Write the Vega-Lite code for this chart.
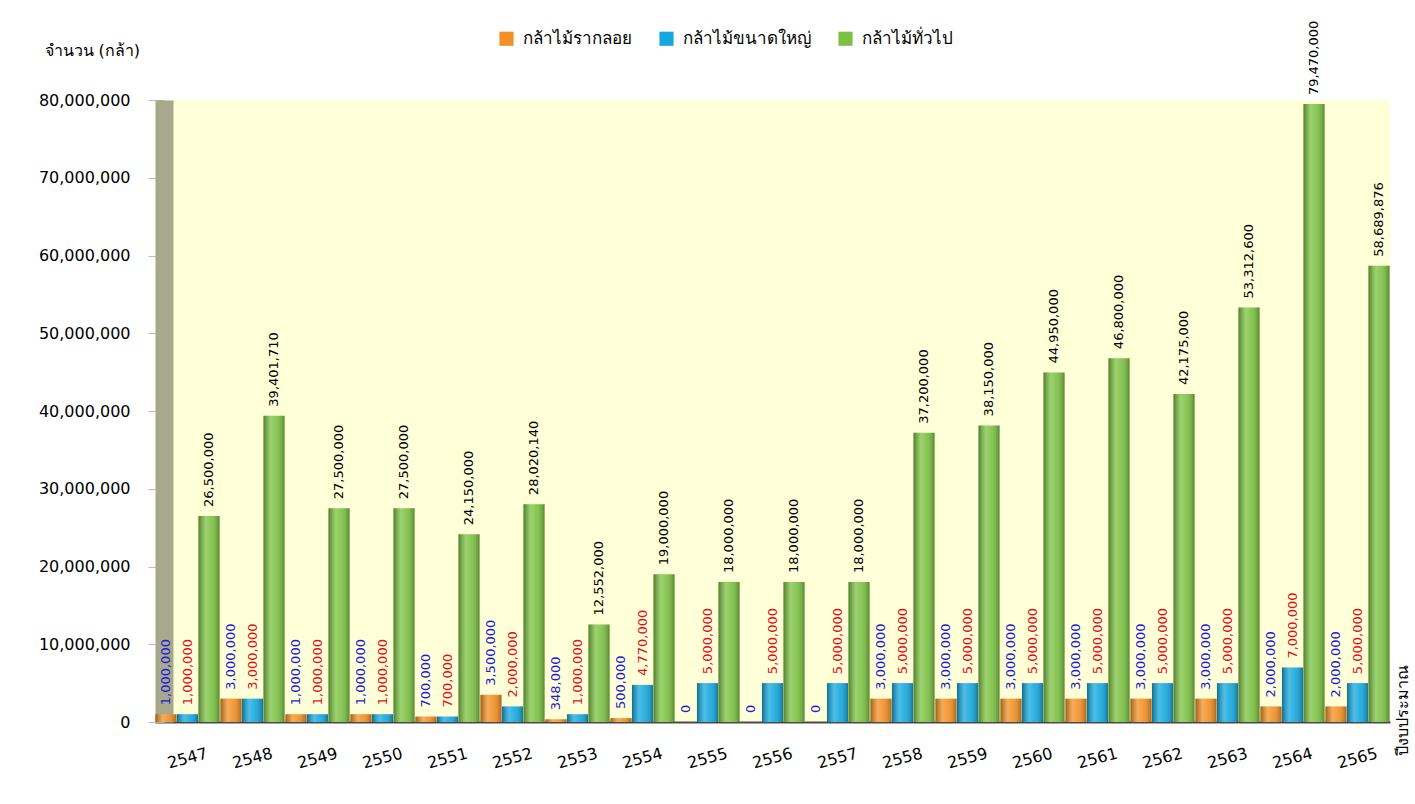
{
  "$schema": "https://vega.github.io/schema/vega-lite/v6.json",
  "width": 1235,
  "height": 622,
  "autosize": "none",
  "padding": {"left": 155, "top": 100, "right": 25, "bottom": 82},
  "background": "white",
  "config": {
    "view": {"fill": "#FFFFD8", "stroke": null},
    "font": "DejaVu Sans"
  },
  "data": {
    "values": [
      {"year": "2547", "series": "กล้าไม้รากลอย", "value": 1000000},
      {"year": "2547", "series": "กล้าไม้ขนาดใหญ่", "value": 1000000},
      {"year": "2547", "series": "กล้าไม้ทั่วไป", "value": 26500000},
      {"year": "2548", "series": "กล้าไม้รากลอย", "value": 3000000},
      {"year": "2548", "series": "กล้าไม้ขนาดใหญ่", "value": 3000000},
      {"year": "2548", "series": "กล้าไม้ทั่วไป", "value": 39401710},
      {"year": "2549", "series": "กล้าไม้รากลอย", "value": 1000000},
      {"year": "2549", "series": "กล้าไม้ขนาดใหญ่", "value": 1000000},
      {"year": "2549", "series": "กล้าไม้ทั่วไป", "value": 27500000},
      {"year": "2550", "series": "กล้าไม้รากลอย", "value": 1000000},
      {"year": "2550", "series": "กล้าไม้ขนาดใหญ่", "value": 1000000},
      {"year": "2550", "series": "กล้าไม้ทั่วไป", "value": 27500000},
      {"year": "2551", "series": "กล้าไม้รากลอย", "value": 700000},
      {"year": "2551", "series": "กล้าไม้ขนาดใหญ่", "value": 700000},
      {"year": "2551", "series": "กล้าไม้ทั่วไป", "value": 24150000},
      {"year": "2552", "series": "กล้าไม้รากลอย", "value": 3500000},
      {"year": "2552", "series": "กล้าไม้ขนาดใหญ่", "value": 2000000},
      {"year": "2552", "series": "กล้าไม้ทั่วไป", "value": 28020140},
      {"year": "2553", "series": "กล้าไม้รากลอย", "value": 348000},
      {"year": "2553", "series": "กล้าไม้ขนาดใหญ่", "value": 1000000},
      {"year": "2553", "series": "กล้าไม้ทั่วไป", "value": 12552000},
      {"year": "2554", "series": "กล้าไม้รากลอย", "value": 500000},
      {"year": "2554", "series": "กล้าไม้ขนาดใหญ่", "value": 4770000},
      {"year": "2554", "series": "กล้าไม้ทั่วไป", "value": 19000000},
      {"year": "2555", "series": "กล้าไม้รากลอย", "value": 0},
      {"year": "2555", "series": "กล้าไม้ขนาดใหญ่", "value": 5000000},
      {"year": "2555", "series": "กล้าไม้ทั่วไป", "value": 18000000},
      {"year": "2556", "series": "กล้าไม้รากลอย", "value": 0},
      {"year": "2556", "series": "กล้าไม้ขนาดใหญ่", "value": 5000000},
      {"year": "2556", "series": "กล้าไม้ทั่วไป", "value": 18000000},
      {"year": "2557", "series": "กล้าไม้รากลอย", "value": 0},
      {"year": "2557", "series": "กล้าไม้ขนาดใหญ่", "value": 5000000},
      {"year": "2557", "series": "กล้าไม้ทั่วไป", "value": 18000000},
      {"year": "2558", "series": "กล้าไม้รากลอย", "value": 3000000},
      {"year": "2558", "series": "กล้าไม้ขนาดใหญ่", "value": 5000000},
      {"year": "2558", "series": "กล้าไม้ทั่วไป", "value": 37200000},
      {"year": "2559", "series": "กล้าไม้รากลอย", "value": 3000000},
      {"year": "2559", "series": "กล้าไม้ขนาดใหญ่", "value": 5000000},
      {"year": "2559", "series": "กล้าไม้ทั่วไป", "value": 38150000},
      {"year": "2560", "series": "กล้าไม้รากลอย", "value": 3000000},
      {"year": "2560", "series": "กล้าไม้ขนาดใหญ่", "value": 5000000},
      {"year": "2560", "series": "กล้าไม้ทั่วไป", "value": 44950000},
      {"year": "2561", "series": "กล้าไม้รากลอย", "value": 3000000},
      {"year": "2561", "series": "กล้าไม้ขนาดใหญ่", "value": 5000000},
      {"year": "2561", "series": "กล้าไม้ทั่วไป", "value": 46800000},
      {"year": "2562", "series": "กล้าไม้รากลอย", "value": 3000000},
      {"year": "2562", "series": "กล้าไม้ขนาดใหญ่", "value": 5000000},
      {"year": "2562", "series": "กล้าไม้ทั่วไป", "value": 42175000},
      {"year": "2563", "series": "กล้าไม้รากลอย", "value": 3000000},
      {"year": "2563", "series": "กล้าไม้ขนาดใหญ่", "value": 5000000},
      {"year": "2563", "series": "กล้าไม้ทั่วไป", "value": 53312600},
      {"year": "2564", "series": "กล้าไม้รากลอย", "value": 2000000},
      {"year": "2564", "series": "กล้าไม้ขนาดใหญ่", "value": 7000000},
      {"year": "2564", "series": "กล้าไม้ทั่วไป", "value": 79470000},
      {"year": "2565", "series": "กล้าไม้รากลอย", "value": 2000000},
      {"year": "2565", "series": "กล้าไม้ขนาดใหญ่", "value": 5000000},
      {"year": "2565", "series": "กล้าไม้ทั่วไป", "value": 58689876}
    ]
  },
  "encoding": {
    "x": {
      "field": "year",
      "type": "nominal",
      "scale": {"paddingInner": 0, "paddingOuter": 0},
      "axis": {
        "title": "ปีงบประมาณ",
        "titleAngle": 270,
        "titleX": 1247,
        "titleY": -12,
        "titleAlign": "center",
        "titleBaseline": "middle",
        "titleFontSize": 16,
        "titleFontWeight": "normal",
        "titleColor": "black",
        "labelAngle": -15,
        "labelFontSize": 16,
        "labelColor": "black",
        "labelPadding": 36,
        "labelBaseline": "middle",
        "labelAlign": "center",
        "ticks": false,
        "domainColor": "#4a4a4a",
        "domainWidth": 2
      }
    },
    "xOffset": {
      "field": "series",
      "type": "nominal",
      "sort": ["กล้าไม้รากลอย", "กล้าไม้ขนาดใหญ่", "กล้าไม้ทั่วไป"],
      "scale": {"paddingInner": 0.02, "paddingOuter": 0.02}
    },
    "y": {
      "field": "value",
      "type": "quantitative",
      "scale": {"domain": [0, 80000000], "nice": false},
      "axis": {
        "title": "จำนวน (กล้า)",
        "titleAngle": 0,
        "titleX": -120,
        "titleY": -50,
        "titleAlign": "left",
        "titleBaseline": "middle",
        "titleFontSize": 16,
        "titleFontWeight": "normal",
        "titleColor": "black",
        "values": [0, 10000000, 20000000, 30000000, 40000000, 50000000, 60000000, 70000000, 80000000],
        "format": ",d",
        "labelOverlap": false,
        "labelFontSize": 16,
        "labelColor": "black",
        "labelPadding": 18,
        "tickSize": 16,
        "tickColor": "#bbbbbb",
        "offset": -9,
        "domainColor": "#a8a88c",
        "domainWidth": 18,
        "grid": false
      }
    }
  },
  "layer": [
    {
      "mark": {"type": "bar"},
      "encoding": {
        "color": {
          "field": "series",
          "type": "nominal",
          "sort": ["กล้าไม้รากลอย", "กล้าไม้ขนาดใหญ่", "กล้าไม้ทั่วไป"],
          "scale": {
            "domain": ["กล้าไม้รากลอย", "กล้าไม้ขนาดใหญ่", "กล้าไม้ทั่วไป"],
            "range": ["#F39024", "#14A8DE", "#7CC242"]
          },
          "legend": {
            "title": null,
            "orient": "none",
            "direction": "horizontal",
            "legendX": 343,
            "legendY": -70,
            "symbolType": "square",
            "symbolSize": 200,
            "symbolStrokeWidth": 0,
            "labelFontSize": 17,
            "labelColor": "black",
            "labelLimit": 300,
            "columnPadding": 26,
            "labelOffset": 8
          }
        }
      }
    },
    {
      "mark": {
        "type": "bar",
        "fill": {
          "gradient": "linear",
          "x1": 0, "y1": 0, "x2": 1, "y2": 0,
          "stops": [
            {"offset": 0, "color": "rgba(0,0,0,0.35)"},
            {"offset": 0.35, "color": "rgba(255,255,255,0.25)"},
            {"offset": 0.6, "color": "rgba(255,255,255,0.1)"},
            {"offset": 1, "color": "rgba(0,0,0,0.3)"}
          ]
        }
      },
      "encoding": {}
    },
    {
      "mark": {
        "type": "text",
        "angle": 270,
        "align": "left",
        "baseline": "middle",
        "dx": 9,
        "fontSize": 13
      },
      "encoding": {
        "text": {"field": "value", "type": "quantitative", "format": ",d"},
        "color": {
          "condition": [
            {"test": "datum.series === 'กล้าไม้รากลอย'", "value": "#1c1cd8"},
            {"test": "datum.series === 'กล้าไม้ขนาดใหญ่'", "value": "#e3101b"}
          ],
          "value": "black"
        }
      }
    }
  ]
}
